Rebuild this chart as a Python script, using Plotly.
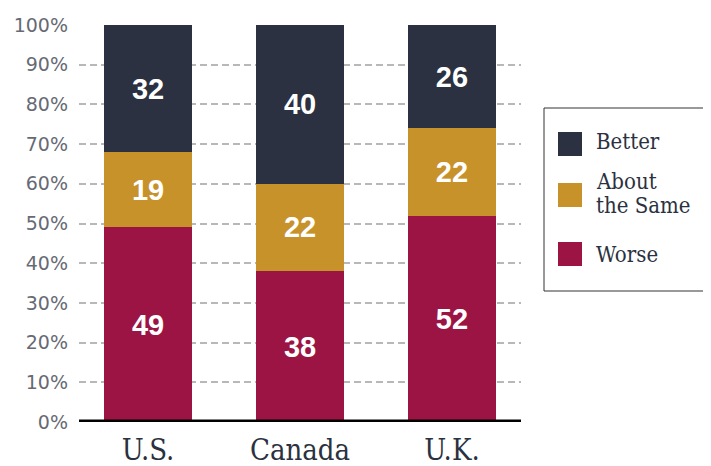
import plotly.graph_objects as go

categories = ["U.S.", "Canada", "U.K."]
series_names = ["Worse", "About the Same", "Better"]
worse = [49, 38, 52]
same = [19, 22, 22]
better = [32, 40, 26]
y_ticks = list(range(0, 101, 10))
legend_order = ["Better", "About the Same", "Worse"]
legend_lines = {"Better": ["Better"], "About the Same": ["About", "the Same"], "Worse": ["Worse"]}

colors = {"Worse": "#9b1444", "About the Same": "#c8922b", "Better": "#2b3140"}
text_dark = "#2b3140"

# page body has an 8px margin; figure sized so it ends at the window edge
OFF = 8
W, H = 711 - OFF, 466 - OFF
L, T = 79 - OFF, 25 - OFF
R = W - (521 - OFF)
B = H - (422 - OFF)
pw, ph = W - L - R, H - T - B


def px_x(p):
    return (p - OFF - L) / pw


def px_y(p):
    return (H - B - (p - OFF)) / ph


fig = go.Figure()
for name, vals in zip(series_names, [worse, same, better]):
    fig.add_trace(go.Bar(
        x=list(range(len(categories))), y=vals, name=name,
        marker=dict(color=colors[name], line=dict(width=0)),
        text=[str(v) for v in vals], textposition="inside",
        insidetextanchor="middle",
        textfont=dict(family="Liberation Sans", size=29, color="white", weight="bold"),
        hoverinfo="skip",
    ))

shapes = [
    dict(type="line", xref="paper", yref="y", x0=0, x1=1, y0=0, y1=0,
         line=dict(color="black", width=5), layer="above"),
    dict(type="rect", xref="paper", yref="paper",
         x0=px_x(544), x1=px_x(706), y0=px_y(291), y1=px_y(108),
         line=dict(color="#333333", width=1), fillcolor="white"),
]
annotations = []
sq_centers = [144, 195, 254]
line_centers = {"Better": [141], "About the Same": [181, 205], "Worse": [255]}
for name, cy in zip(legend_order, sq_centers):
    shapes.append(dict(type="rect", xref="paper", yref="paper",
                       x0=px_x(558), x1=px_x(582), y0=px_y(cy + 12), y1=px_y(cy - 12),
                       line=dict(width=0), fillcolor=colors[name]))
    for txt, ly in zip(legend_lines[name], line_centers[name]):
        annotations.append(dict(xref="paper", yref="paper", x=px_x(594), y=px_y(ly),
                                xanchor="left", yanchor="middle", align="left",
                                text=txt, showarrow=False,
                                font=dict(family="DejaVu Serif Condensed", size=22, color=text_dark)))

fig.update_layout(
    width=W, height=H, margin=dict(l=L, r=R, t=T, b=B, autoexpand=False),
    barmode="stack", bargap=0.42, showlegend=False,
    plot_bgcolor="white", paper_bgcolor="white",
    shapes=shapes, annotations=annotations,
    uniformtext=dict(mode=False),
    xaxis=dict(
        tickvals=list(range(len(categories))), ticktext=categories,
        range=[-0.454, 2.454], showgrid=False, zeroline=False, showline=False,
        ticks="", ticklabelstandoff=8, automargin=False,
        tickfont=dict(family="DejaVu Serif Condensed", size=29, color=text_dark),
    ),
    yaxis=dict(
        range=[0, 100], tickvals=y_ticks, ticktext=[f"{v}%" for v in y_ticks],
        showgrid=True, gridcolor="#b8b8b8", gridwidth=2, griddash="7px,4px",
        zeroline=False, showline=False, ticks="", ticklabelstandoff=10,
        automargin=False,
        tickfont=dict(family="DejaVu Sans", size=19, color="#666a74"),
    ),
)

fig.write_html("out.html")
